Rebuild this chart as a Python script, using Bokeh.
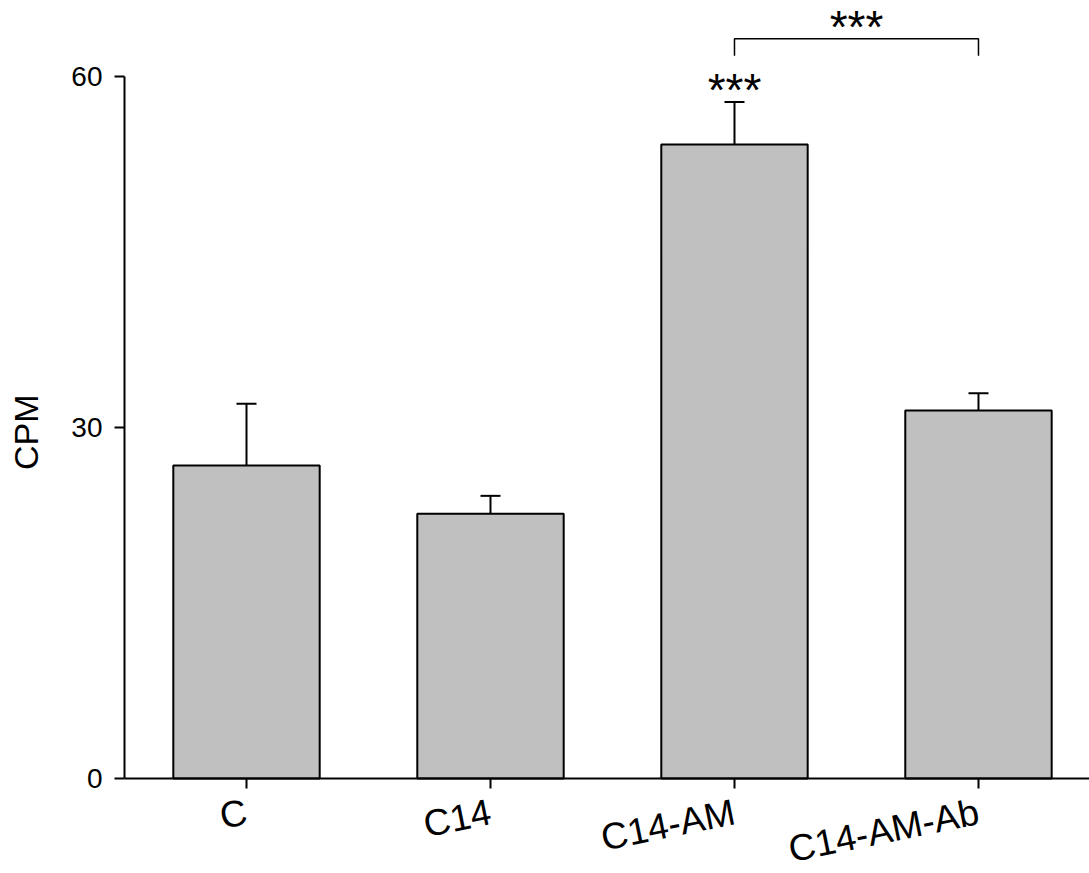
import math
from bokeh.plotting import figure
from bokeh.models import ColumnDataSource, Range1d, FixedTicker, Whisker, TeeHead, Label
from bokeh.core.properties import value
from bokeh.embed import file_html
from bokeh.resources import INLINE

categories = ["C", "C14", "C14-AM", "C14-AM-Ab"]
means = [26.75, 22.62, 54.19, 31.45]
errors = [5.28, 1.54, 3.63, 1.48]
y_ticks = [0, 30, 60]
y_label = "CPM"
sig_label = "***"

xs = [i + 0.5 for i in range(len(categories))]
uppers = [m + e for m, e in zip(means, errors)]

FONT = "Liberation Sans"

p = figure(width=1089, height=873, output_backend="svg", toolbar_location=None,
           x_range=Range1d(-0.5082, 3.955), y_range=Range1d(-8.12, 66.5),
           min_border_left=0, min_border_right=0, min_border_top=0, min_border_bottom=0)
p.outline_line_color = None
p.xgrid.visible = False
p.ygrid.visible = False
p.background_fill_color = "white"
p.border_fill_color = "white"

src = ColumnDataSource(dict(x=xs, top=means, upper=uppers))
p.vbar(x="x", top="top", bottom=0, width=0.6, source=src,
       fill_color="#c0c0c0", line_color="black", line_width=2)

wh = Whisker(source=src, base="x", lower="top", upper="upper", dimension="height",
             line_color="black", line_width=2,
             upper_head=TeeHead(size=20, line_color="black", line_width=2),
             lower_head=None)
p.add_layout(wh)

# significance bracket between C14-AM and C14-AM-Ab
bracket_y = max(uppers) + 5.4
p.multi_line(xs=[[xs[2], xs[2], xs[3], xs[3]]],
             ys=[[bracket_y - 1.45, bracket_y, bracket_y, bracket_y - 1.45]],
             line_color="black", line_width=1.5)

p.text(x=[(xs[2] + xs[3]) / 2, xs[2]], y=[bracket_y + 1.0, uppers[2] + 1.0],
       text=[sig_label, sig_label], text_font=value(FONT), text_font_size="46px",
       text_align="center", text_baseline="alphabetic", text_color="black")

# x axis drawn at y = 0
xa = p.xaxis[0]
xa.fixed_location = 0
xa.bounds = (0, 3.955)
xa.ticker = FixedTicker(ticks=xs)
xa.major_label_overrides = {x: c for x, c in zip(xs, categories)}
xa.minor_tick_line_color = None
xa.major_tick_out = 10
xa.major_tick_in = 0
xa.major_tick_line_width = 2
xa.axis_line_width = 2
xa.major_label_orientation = 0.2
xa.major_label_text_font = FONT
xa.major_label_text_font_size = "37px"
xa.major_label_text_color = "black"
xa.major_label_standoff = 23

# y axis drawn at x = 0
ya = p.yaxis[0]
ya.fixed_location = 0
ya.ticker = FixedTicker(ticks=y_ticks)
ya.bounds = (0, 60)
ya.minor_tick_line_color = None
ya.major_tick_out = 10
ya.major_tick_in = 0
ya.major_tick_line_width = 2
ya.axis_line_width = 2
ya.major_label_text_font = FONT
ya.major_label_text_font_size = "28px"
ya.major_label_text_color = "black"
ya.major_label_standoff = 12

p.add_layout(Label(x=-0.4057, y=(y_ticks[0] + y_ticks[-1]) / 2 - 0.4, text=y_label,
                   angle=math.pi / 2, text_align="center", text_baseline="middle",
                   text_font=FONT, text_font_size="34px", text_color="black"))

open("out.html", "w").write(file_html(p, INLINE))
